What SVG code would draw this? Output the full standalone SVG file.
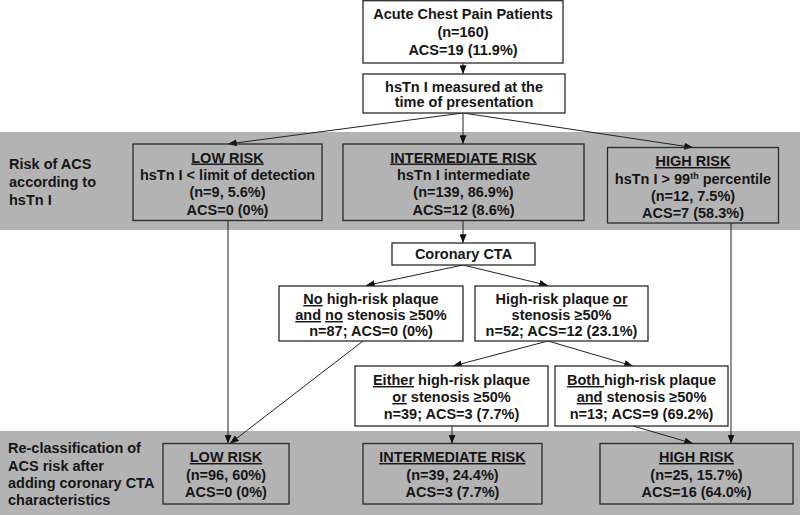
<svg xmlns="http://www.w3.org/2000/svg" width="800" height="515" viewBox="0 0 800 515">
  <style>
    .band { fill: #b3b3b3; }
    .box { stroke: #2a2a2a; stroke-width: 1.3; }
    .wbox { fill: #ffffff; }
    .gbox { fill: none; }
    text { font-family: "Liberation Sans", Arial, sans-serif; font-weight: bold; font-size: 14.5px; fill: #161616; }
    .c { text-anchor: middle; }
    .u { text-decoration: underline; }
    .sup { font-size: 9px; }
    .conn line { stroke: #222222; stroke-width: 1; fill: none; marker-end: url(#arr); }
  </style>
  <defs>
    <marker id="arr" viewBox="0 0 10 8" refX="10" refY="4" markerWidth="9" markerHeight="7" markerUnits="userSpaceOnUse" orient="auto">
      <path d="M0,0 L10,4 L0,8 z" fill="#111111"/>
    </marker>
  </defs>

  <rect class="band" x="0" y="132" width="800" height="98"/>
  <rect class="band" x="0" y="431" width="800" height="84"/>

  <g id="label-risk">
    <text x="9" y="169">Risk of ACS</text>
    <text x="9" y="187">according to</text>
    <text x="9" y="204.5">hsTn I</text>
  </g>
  <g id="label-reclass">
    <text x="8" y="453">Re-classification of</text>
    <text x="8" y="470.5">ACS risk after</text>
    <text x="8" y="487.5">adding coronary CTA</text>
    <text x="8" y="504.5">characteristics</text>
  </g>

  <g class="conn" id="connectors">
    <line x1="463" y1="63" x2="463" y2="74"/>
    <line x1="463" y1="113" x2="228" y2="144"/>
    <line x1="463" y1="113" x2="463" y2="144"/>
    <line x1="463" y1="113" x2="693" y2="147.5"/>
    <line x1="463" y1="221" x2="463" y2="243"/>
    <line x1="228" y1="221" x2="228" y2="443.5"/>
    <line x1="731" y1="223" x2="731" y2="443.5"/>
    <line x1="463" y1="265" x2="366" y2="285.5"/>
    <line x1="463" y1="265" x2="548" y2="285.5"/>
    <line x1="363" y1="341" x2="230" y2="443.5"/>
    <line x1="548" y1="341" x2="453" y2="366"/>
    <line x1="548" y1="341" x2="633" y2="366"/>
    <line x1="452" y1="426" x2="452" y2="443.5"/>
    <line x1="633" y1="426" x2="693" y2="443.5"/>
  </g>

  <g id="patients">
    <rect class="box wbox" x="363" y="0.7" width="200" height="62.3"/>
    <text class="c" x="463" y="19">Acute Chest Pain Patients</text>
    <text class="c" x="463" y="37">(n=160)</text>
    <text class="c" x="463" y="55">ACS=19 (11.9%)</text>
  </g>

  <g id="hstn">
    <rect class="box wbox" x="363" y="74" width="202" height="39"/>
    <text class="c" x="464" y="92">hsTn I measured at the</text>
    <text class="c" x="464" y="107">time of presentation</text>
  </g>

  <g id="low-risk">
    <rect class="box gbox" x="133" y="144" width="189" height="76.5"/>
    <text class="c" x="227.5" y="162.5"><tspan class="u">LOW RISK</tspan></text>
    <text class="c" x="227.5" y="179.5">hsTn I &lt; limit of detection</text>
    <text class="c" x="227.5" y="197">(n=9, 5.6%)</text>
    <text class="c" x="227.5" y="214.5">ACS=0 (0%)</text>
  </g>

  <g id="intermediate-risk">
    <rect class="box gbox" x="343" y="144" width="241" height="76.5"/>
    <text class="c" x="463.5" y="162.5"><tspan class="u">INTERMEDIATE RISK</tspan></text>
    <text class="c" x="463.5" y="179.5">hsTn I intermediate</text>
    <text class="c" x="463.5" y="197">(n=139, 86.9%)</text>
    <text class="c" x="463.5" y="214.5">ACS=12 (8.6%)</text>
  </g>

  <g id="high-risk">
    <rect class="box gbox" x="607.5" y="147.5" width="171" height="75.5"/>
    <text class="c" x="693" y="166"><tspan class="u">HIGH RISK</tspan></text>
    <text class="c" x="693" y="183.5">hsTn I &gt; 99<tspan class="sup" dy="-5">th</tspan><tspan dy="5"> percentile</tspan></text>
    <text class="c" x="693" y="201">(n=12, 7.5%)</text>
    <text class="c" x="693" y="218">ACS=7 (58.3%)</text>
  </g>

  <g id="coronary-cta">
    <rect class="box wbox" x="392" y="243" width="143" height="22"/>
    <text class="c" x="463.5" y="259">Coronary CTA</text>
  </g>

  <g id="no-high-risk">
    <rect class="box wbox" x="279" y="286" width="184" height="55"/>
    <text class="c" x="371" y="304"><tspan class="u">No</tspan> high-risk plaque</text>
    <text class="c" x="371" y="320"><tspan class="u">and</tspan> <tspan class="u">no</tspan> stenosis ≥50%</text>
    <text class="c" x="371" y="335.5">n=87; ACS=0 (0%)</text>
  </g>

  <g id="high-risk-plaque">
    <rect class="box wbox" x="475" y="286" width="173" height="55"/>
    <text class="c" x="561.5" y="304">High-risk plaque <tspan class="u">or</tspan></text>
    <text class="c" x="561.5" y="320">stenosis ≥50%</text>
    <text class="c" x="561.5" y="336">n=52; ACS=12 (23.1%)</text>
  </g>

  <g id="either">
    <rect class="box wbox" x="355" y="366" width="193" height="60"/>
    <text class="c" x="451.5" y="385"><tspan class="u">Either</tspan> high-risk plaque</text>
    <text class="c" x="451.5" y="402"><tspan class="u">or</tspan> stenosis ≥50%</text>
    <text class="c" x="451.5" y="418.5">n=39; ACS=3 (7.7%)</text>
  </g>

  <g id="both">
    <rect class="box wbox" x="555" y="366" width="173" height="60"/>
    <text class="c" x="641.5" y="385"><tspan class="u">Both </tspan>high-risk plaque</text>
    <text class="c" x="641.5" y="402"><tspan class="u">and</tspan> stenosis ≥50%</text>
    <text class="c" x="641.5" y="418.5">n=13; ACS=9 (69.2%)</text>
  </g>

  <g id="final-low">
    <rect class="box gbox" x="163" y="443.5" width="126" height="60.5"/>
    <text class="c" x="226" y="462"><tspan class="u">LOW RISK</tspan></text>
    <text class="c" x="226" y="479.5">(n=96, 60%)</text>
    <text class="c" x="226" y="497">ACS=0 (0%)</text>
  </g>

  <g id="final-intermediate">
    <rect class="box gbox" x="363" y="443.5" width="179" height="60.5"/>
    <text class="c" x="452.5" y="462"><tspan class="u">INTERMEDIATE RISK</tspan></text>
    <text class="c" x="452.5" y="479.5">(n=39, 24.4%)</text>
    <text class="c" x="452.5" y="497">ACS=3 (7.7%)</text>
  </g>

  <g id="final-high">
    <rect class="box gbox" x="600" y="443.5" width="193" height="60.5"/>
    <text class="c" x="696.5" y="462"><tspan class="u">HIGH RISK</tspan></text>
    <text class="c" x="696.5" y="479.5">(n=25, 15.7%)</text>
    <text class="c" x="696.5" y="497">ACS=16 (64.0%)</text>
  </g>
</svg>
